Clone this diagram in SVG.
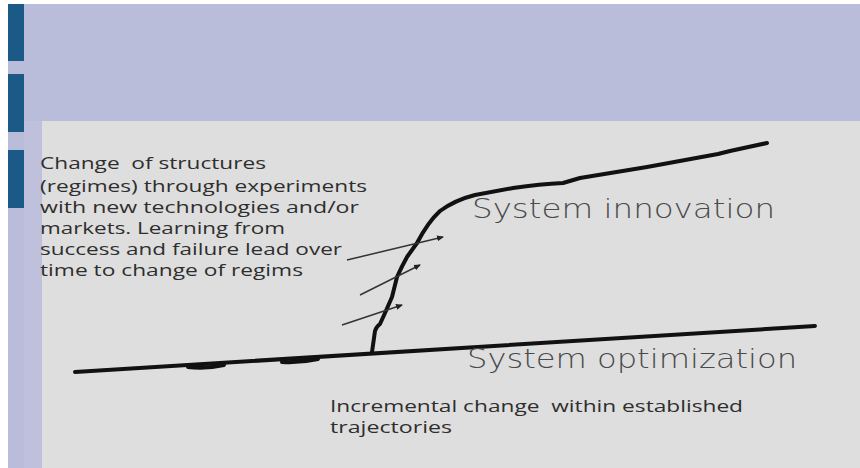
<svg xmlns="http://www.w3.org/2000/svg" width="860" height="468" viewBox="0 0 860 468">
<style>
.body{font-family:"Open Sans","Liberation Sans",sans-serif;font-size:15.5px;fill:#2e2e2e}
.title{font-family:"DejaVu Sans","Liberation Sans",sans-serif;font-size:26px;fill:#4a4a4a;font-weight:300}
.thick{fill:none;stroke:#111;stroke-width:4;stroke-linecap:round;stroke-linejoin:round}
.thin{fill:none;stroke:#333;stroke-width:1.5;marker-end:url(#ah)}
</style>
<defs>
<marker id="ah" markerWidth="8" markerHeight="8" refX="6" refY="4" orient="auto" markerUnits="userSpaceOnUse">
<path d="M0,1 L7,4 L0,7 Z" fill="#222"/>
</marker>
</defs>
<rect x="0" y="0" width="860" height="468" fill="#ffffff"/>
<rect x="8" y="4" width="852" height="464" fill="#babdd9"/>
<rect x="42" y="121" width="818" height="347" fill="#dedede"/>
<rect x="24" y="121" width="18" height="347" fill="#bfc1dc"/>
<g id="bars" fill="#1b5a86">
<rect x="8" y="4" width="16" height="57"/>
<rect x="8" y="74" width="16" height="58"/>
<rect x="8" y="150" width="16" height="58"/>
</g>
<g id="connectors">
<path class="thick" d="M75,372 L815,326"/>
<path class="thick" d="M188,367 Q206,369 224,365" stroke-width="3"/>
<path class="thick" d="M282,362 Q300,363 318,359" stroke-width="2.5"/>
<path class="thick" d="M372,352 L375,331 Q376,327 380,324 L385,313 L392,297 L397,277 Q402,266 407,257 L417,243 Q428,222 440,211 Q455,200 475,195 L513,188 Q540,184 563,183 L580,178 L647,167 L718,154 L730,151 L767,143"/>
<path class="thin" d="M347,260 L443,237"/>
<path class="thin" d="M360,295 L420,265"/>
<path class="thin" d="M342,325 L402,305"/>
</g>
<g id="text-left">
<text class="body" x="40" y="169" textLength="226" lengthAdjust="spacingAndGlyphs" xml:space="preserve">Change  of structures</text>
<text class="body" x="40" y="192" textLength="327" lengthAdjust="spacingAndGlyphs">(regimes) through experiments</text>
<text class="body" x="40" y="213" textLength="319" lengthAdjust="spacingAndGlyphs">with new technologies and/or</text>
<text class="body" x="40" y="234" textLength="245" lengthAdjust="spacingAndGlyphs">markets. Learning from</text>
<text class="body" x="40" y="255" textLength="302" lengthAdjust="spacingAndGlyphs">success and failure lead over</text>
<text class="body" x="40" y="276" textLength="263" lengthAdjust="spacingAndGlyphs">time to change of regims</text>
</g>
<g id="innovation">
<text class="title" x="472" y="218" textLength="303" lengthAdjust="spacingAndGlyphs">System innovation</text>
</g>
<g id="optimization">
<text class="title" x="467" y="368" textLength="330" lengthAdjust="spacingAndGlyphs">System optimization</text>
</g>
<g id="incremental">
<text class="body" x="330" y="412" textLength="413" lengthAdjust="spacingAndGlyphs" xml:space="preserve">Incremental change  within established</text>
<text class="body" x="330" y="433" textLength="122" lengthAdjust="spacingAndGlyphs">trajectories</text>
</g>
</svg>
